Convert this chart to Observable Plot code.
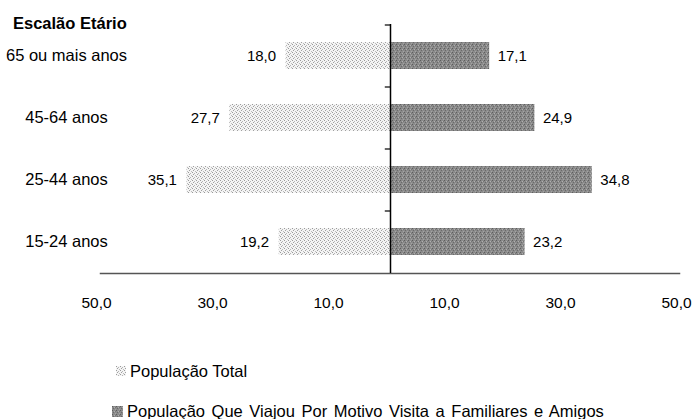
<!DOCTYPE html>
<html>
<head>
<meta charset="utf-8">
<script src="https://cdn.jsdelivr.net/npm/d3@7"></script>
<script src="https://cdn.jsdelivr.net/npm/@observablehq/plot@0.6"></script>
<style>
  body { margin: 0; background: #fff; font-family: "Liberation Sans", Arial, sans-serif; color: #000; }
  #wrap { position: relative; width: 692px; height: 419px; overflow: hidden; }
  #title { position: absolute; left: 13px; top: 14px; font-size: 16.5px; font-weight: bold; line-height: 18px; }
  .leg { position: absolute; font-size: 16.5px; line-height: 20px; display: flex; align-items: center; white-space: nowrap; }
  .leg svg { margin-right: 4px; }
</style>
</head>
<body>
<div id="wrap">
  <div id="chart"></div>
  <div id="title"></div>
  <div id="leg1" class="leg" style="left:116px; top:361px;"></div>
  <div id="leg2" class="leg" style="left:112px; top:401px; word-spacing:2px;"></div>
</div>
<script>
const titleText = "Escalão Etário";
const categories = ["65 ou mais anos", "45-64 anos", "25-44 anos", "15-24 anos"];
const populacaoTotal = [18.0, 27.7, 35.1, 19.2];
const populacaoVisitaFamiliares = [17.1, 24.9, 34.8, 23.2];
const seriesNames = ["População Total", "População Que Viajou Por Motivo Visita a Familiares e Amigos"];
const xTicks = [-50, -30, -10, 10, 30, 50];

const fmt = v => v.toFixed(1).replace(".", ",");

const left = categories.map((c, i) => ({cat: c, value: -populacaoTotal[i], label: fmt(populacaoTotal[i])}));
const right = categories.map((c, i) => ({cat: c, value: populacaoVisitaFamiliares[i], label: fmt(populacaoVisitaFamiliares[i])}));

const chart = Plot.plot({
  width: 692,
  height: 320,
  marginTop: 24,
  marginBottom: 47,
  marginLeft: 100,
  marginRight: 12,
  style: {fontFamily: "'Liberation Sans', Arial, sans-serif", fontSize: "15px", color: "#000", background: "transparent"},
  x: {domain: [-50, 50]},
  y: {domain: categories, paddingInner: 0.565, paddingOuter: 0.2825},
  marks: [
    Plot.barX(left, {x: "value", y: "cat", fill: "url(#patLight)"}),
    Plot.barX(right, {x: "value", y: "cat", fill: "url(#patDark)"}),
    Plot.frame({anchor: "bottom", stroke: "#555", strokeWidth: 1.5, strokeDasharray: "3,1"}),
    Plot.ruleX([0], {stroke: "#000", strokeWidth: 1.5}),
    Plot.ruleY(categories, {y: d => d, x1: -0.9, x2: 0, dy: -31, stroke: "#000", strokeWidth: 1.2}),
    Plot.text(left, {x: "value", y: "cat", text: "label", textAnchor: "end", dx: -10, fontSize: 15}),
    Plot.text(right, {x: "value", y: "cat", text: "label", textAnchor: "start", dx: 8, fontSize: 15}),
    Plot.axisX({ticks: xTicks, tickFormat: d => fmt(Math.abs(d)), tickSize: 0, tickPadding: 23, dx: -4, label: null, fontSize: 15.5}),
    Plot.axisY({tickSize: 0, tickPadding: 34, textAnchor: "middle", label: null, fontSize: 16.5})
  ]
});

// pattern fills
const ns = "http://www.w3.org/2000/svg";
const defs = document.createElementNS(ns, "defs");
defs.innerHTML = `
  <pattern id="patLight" width="4" height="4" patternUnits="userSpaceOnUse">
    <rect width="4" height="4" fill="#f4f4f4"/>
    <rect x="0" y="0" width="1" height="1" fill="#9a9a9a"/>
    <rect x="2" y="1" width="1" height="1" fill="#b5b5b5"/>
    <rect x="1" y="2" width="1" height="1" fill="#a0a0a0"/>
    <rect x="3" y="3" width="1" height="1" fill="#bcbcbc"/>
  </pattern>
  <pattern id="patDark" width="4" height="4" patternUnits="userSpaceOnUse">
    <rect width="4" height="4" fill="#8a8a8a"/>
    <rect x="0" y="0" width="1" height="1" fill="#5e5e5e"/>
    <rect x="2" y="1" width="1" height="1" fill="#b0b0b0"/>
    <rect x="1" y="2" width="1" height="1" fill="#6a6a6a"/>
    <rect x="3" y="3" width="1" height="1" fill="#a4a4a4"/>
    <rect x="3" y="1" width="1" height="1" fill="#767676"/>
  </pattern>`;
chart.insertBefore(defs, chart.firstChild);
document.getElementById("chart").appendChild(chart);

document.getElementById("title").textContent = titleText;
function swatch(pid, size) {
  return `<svg width="${size}" height="${size}"><rect width="${size}" height="${size}" fill="url(#${pid})"/></svg>`;
}
document.getElementById("leg1").innerHTML = swatch("patLight", 10) + `<span>${seriesNames[0]}</span>`;
document.getElementById("leg2").innerHTML = swatch("patDark", 11) + `<span>${seriesNames[1]}</span>`;
</script>
</body>
</html>
